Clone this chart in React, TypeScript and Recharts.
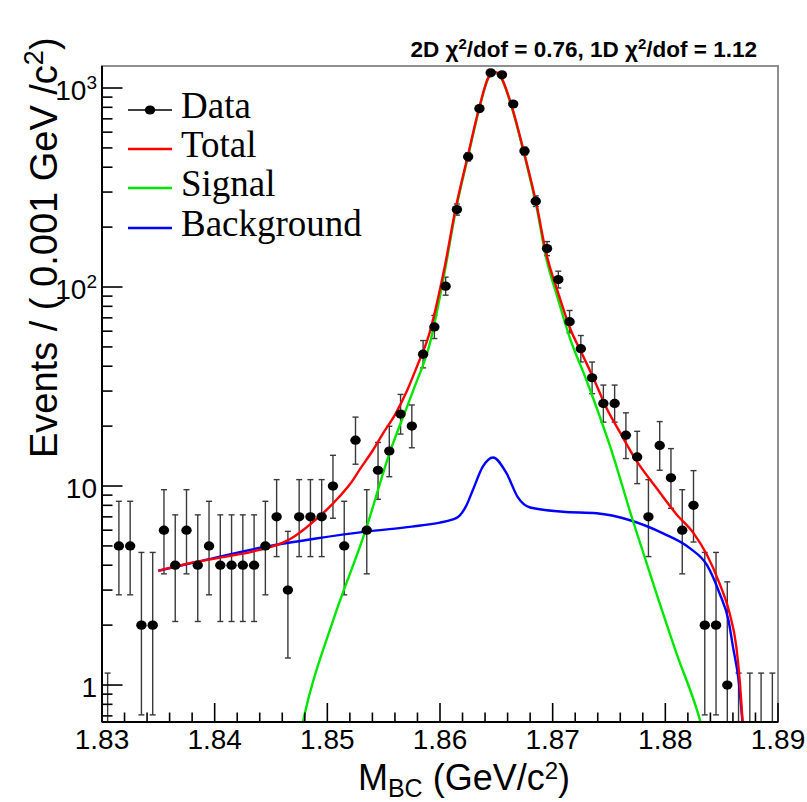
import React from 'react';
import {
  ComposedChart,
  XAxis,
  YAxis,
  Scatter,
  Line,
  ErrorBar,
  ReferenceArea,
  Legend,
  Customized,
} from 'recharts';

// ---------------- data ----------------
const binCenters = [
  1.8305, 1.8315, 1.8325, 1.8335, 1.8345, 1.8355, 1.8365, 1.8375, 1.8385, 1.8395,
  1.8405, 1.8415, 1.8425, 1.8435, 1.8445, 1.8455, 1.8465, 1.8475, 1.8485, 1.8495,
  1.8505, 1.8515, 1.8525, 1.8535, 1.8545, 1.8555, 1.8565, 1.8575, 1.8585, 1.8595,
  1.8605, 1.8615, 1.8625, 1.8635, 1.8645, 1.8655, 1.8665, 1.8675, 1.8685, 1.8695,
  1.8705, 1.8715, 1.8725, 1.8735, 1.8745, 1.8755, 1.8765, 1.8775, 1.8785, 1.8795,
  1.8805, 1.8815, 1.8825, 1.8835, 1.8845, 1.8855, 1.8865, 1.8875, 1.8885, 1.8895,
];

const counts = [
  0, 5, 5, 2, 2, 6, 4, 6, 4, 5,
  4, 4, 4, 4, 5, 7, 3, 7, 7, 7,
  10, 5, 17, 6, 12, 15, 23, 20, 46, 63,
  101, 245, 451, 788, 1192, 1165, 831, 482, 270, 156,
  109, 67, 49, 35, 26, 26, 18, 14, 7, 16,
  11, 6, 8, 2, 2, 1, 0, 0, 0, 0,
];

// lower / upper ends of the (Poisson) error bars
const errLow = [
  0, 2.84, 2.84, 0.708, 0.708, 3.62, 2.086, 3.62, 2.086, 2.84,
  2.086, 2.086, 2.086, 2.086, 2.84, 4.419, 1.367, 4.419, 4.419, 4.419,
  6.887, 2.84, 12.87, 3.62, 8.57, 11.14, 18.24, 15.57, 39.24, 55.09,
  90.97, 229.7, 430.1, 760.2, 1157.8, 1131.2, 802.2, 460.4, 253.9, 143.8,
  98.9, 58.84, 42.03, 29.12, 20.94, 20.94, 13.74, 10.28, 4.419, 12.0,
  7.726, 3.62, 5.232, 0.708, 0.708, 0.173, 0, 0, 0, 0,
];
const errHigh = [
  1.148, 8.382, 8.382, 4.638, 4.638, 9.584, 7.163, 9.584, 7.163, 8.382,
  7.163, 7.163, 7.163, 7.163, 8.382, 10.77, 5.918, 10.77, 10.77, 10.77,
  14.27, 8.382, 22.2, 9.584, 16.56, 19.96, 28.86, 25.54, 53.83, 71.98,
  112.08, 261.4, 472.9, 816.8, 1227.2, 1199.8, 860.5, 504.6, 287.1, 169.2,
  120.1, 76.22, 57.05, 41.97, 32.16, 32.16, 23.32, 18.83, 10.77, 21.08,
  15.42, 9.584, 11.95, 4.638, 4.638, 3.3, 1.148, 1.148, 1.148, 1.148,
];

// fitted curves
const totalX = [
  1.835, 1.836, 1.837, 1.838, 1.839, 1.84, 1.841, 1.842, 1.843, 1.844,
  1.845, 1.846, 1.847, 1.848, 1.849, 1.85, 1.851, 1.852, 1.853, 1.854,
  1.855, 1.856, 1.857, 1.858, 1.859, 1.8604, 1.8614, 1.8625, 1.8635, 1.8643,
  1.8648, 1.8654, 1.8662, 1.8675, 1.8686, 1.8694, 1.8705, 1.8715, 1.8727, 1.8737,
  1.8748, 1.876, 1.8774, 1.8792, 1.881, 1.8825, 1.8837, 1.8848, 1.8857, 1.8863,
  1.8866, 1.8869,
];
const totalY = [
  3.75, 3.88, 4.0, 4.12, 4.22, 4.32, 4.42, 4.52, 4.63, 4.78,
  4.95, 5.18, 5.55, 6.1, 6.8, 7.65, 8.75, 10.2, 12.4, 15.0,
  18.6, 22.8, 29.5, 40.5, 57, 125, 250, 465, 805, 1135,
  1205, 1140, 870, 465, 255, 150, 93, 63, 45, 34,
  24.5, 18.5, 13.5, 9.8, 7.2, 5.8, 4.5, 3.25, 2.3, 1.56,
  1.06, 0.6,
];

const signalX = [
  1.8477, 1.848, 1.8505, 1.8534, 1.8555, 1.8576, 1.8591, 1.8604, 1.8614, 1.8625,
  1.8635, 1.8643, 1.8648, 1.8654, 1.8662, 1.8675, 1.8686, 1.8694, 1.8705, 1.8715,
  1.873, 1.8751, 1.8771, 1.8792, 1.881, 1.8829, 1.8833,
];
const signalY = [
  0.6, 0.72, 2.1, 6.0, 14.5, 30, 52, 118, 243, 455,
  795, 1125, 1193, 1128, 860, 457, 247, 142, 86, 56,
  34, 15.8, 6.75, 2.9, 1.44, 0.72, 0.6,
];

const backgroundX = [
  1.835, 1.8386, 1.8445, 1.849, 1.8534, 1.8575, 1.86, 1.861, 1.8617, 1.8623,
  1.8629, 1.8638, 1.8647, 1.8659, 1.8669, 1.868, 1.8709, 1.8739, 1.8768, 1.8798,
  1.8822, 1.8837, 1.8848, 1.8856, 1.886, 1.8865, 1.8869,
];
const backgroundY = [
  3.75, 4.18, 4.95, 5.45, 5.9, 6.25, 6.55, 6.75, 7.05, 7.9,
  9.5, 12.5, 13.9, 11.6, 8.8, 7.8, 7.43, 7.3, 6.75, 5.78,
  4.86, 4.0, 2.9, 2.12, 1.56, 1.06, 0.6,
];

const xTickValues = [
  1.83, 1.832, 1.834, 1.836, 1.838, 1.84, 1.842, 1.844, 1.846, 1.848,
  1.85, 1.852, 1.854, 1.856, 1.858, 1.86, 1.862, 1.864, 1.866, 1.868,
  1.87, 1.872, 1.874, 1.876, 1.878, 1.88, 1.882, 1.884, 1.886, 1.888, 1.89,
];
const xTickLabels = [
  '1.83', '', '', '', '', '1.84', '', '', '', '',
  '1.85', '', '', '', '', '1.86', '', '', '', '',
  '1.87', '', '', '', '', '1.88', '', '', '', '', '1.89',
];
const yTickValues = [
  0.7, 0.8, 0.9, 1, 2, 3, 4, 5, 6, 7, 8, 9, 10, 20, 30, 40, 50, 60, 70, 80, 90,
  100, 200, 300, 400, 500, 600, 700, 800, 900, 1000,
];
const yTickLabels = [
  '', '', '', '1', '', '', '', '', '', '', '', '', '10', '', '', '', '', '', '', '', '',
  '10^2', '', '', '', '', '', '', '', '', '10^3',
];

const legendLabels = ['Data', 'Total', 'Signal', 'Background'];
const legendColors = ['#000000', '#ff0000', '#00e600', '#0000ff'];

const titleText = ['2D ', 'χ', '2', '/dof = 0.76, 1D ', 'χ', '2', '/dof = 1.12'];
const xTitle = ['M', 'BC', ' (GeV/c', '2', ')'];
const yTitle = ['Events / ( 0.001 GeV /c', '2', ')'];

// ---------------- derived tables ----------------
const Y_MIN = 0.652;
const Y_MAX = 1290;

const pointData = binCenters.map((x, i) => {
  const n = counts[i];
  if (n > 0) {
    const lo = Math.max(errLow[i], Y_MIN); // bar is cut at the frame
    return { x, y: n, n, err: [n - lo, errHigh[i] - n] };
  }
  return { x, y: Y_MIN, n, err: [0, errHigh[i] - Y_MIN] };
});
const totalData = totalX.map((x, i) => ({ x, y: totalY[i] }));
const signalData = signalX.map((x, i) => ({ x, y: signalY[i] }));
const backgroundData = backgroundX.map((x, i) => ({ x, y: backgroundY[i] }));

const SANS = "'Liberation Sans', Arial, Helvetica, sans-serif";
const SERIF = "'Liberation Serif', 'Times New Roman', Times, serif";

// ---------------- renderers ----------------
const XTick = (props: any) => {
  const { x, y, index } = props;
  const label = xTickLabels[index];
  const major = label !== '';
  return (
    <g>
      <line x1={x} x2={x} y1={y} y2={y - (major ? 19 : 9.5)} stroke="#000" strokeWidth={1.6} />
      {major && (
        <text x={x} y={y + 27} textAnchor="middle" fontFamily={SANS} fontSize={28} fill="#000">
          {label}
        </text>
      )}
    </g>
  );
};

const YTick = (props: any) => {
  const { x, y, index } = props;
  const label = yTickLabels[index];
  const major = label !== '';
  const parts = label.split('^');
  return (
    <g>
      <line x1={x} x2={x + (major ? 20.5 : 10.5)} y1={y} y2={y} stroke="#000" strokeWidth={1.6} />
      {major && (
        <text x={x - 5} y={y + 12} textAnchor="end" fontFamily={SANS} fontSize={28} fill="#000">
          {parts[0]}
          {parts.length > 1 && (
            <tspan dy={-11} fontSize={19}>
              {parts[1]}
            </tspan>
          )}
        </text>
      )}
    </g>
  );
};

const DataDot = (props: any) => {
  const { cx, cy, payload } = props;
  if (!payload || payload.n <= 0) return <g />;
  return <ellipse cx={cx} cy={cy} rx={5.2} ry={4.6} fill="#000" />;
};

const renderLegend = () => {
  const rows = [22, 61, 100, 140];
  return (
    <svg width={260} height={160} style={{ display: 'block', overflow: 'visible' }}>
      {legendLabels.map((lab, i) => (
        <g key={lab}>
          <line
            x1={8}
            x2={52}
            y1={rows[i]}
            y2={rows[i]}
            stroke={legendColors[i]}
            strokeWidth={i === 0 ? 1.4 : 2.4}
          />
          {i === 0 && <ellipse cx={30} cy={rows[i]} rx={5.2} ry={4.6} fill="#000" />}
          <text x={61} y={rows[i] + 8} fontFamily={SERIF} fontSize={37} fill="#000">
            {lab}
          </text>
        </g>
      ))}
    </svg>
  );
};

const Texts = () => (
  <g>
    <text x={757} y={57} textAnchor="end" fontFamily={SANS} fontWeight="bold" fontSize={22.5} fill="#000">
      {titleText[0]}
      <tspan>{titleText[1]}</tspan>
      <tspan dy={-8.5} fontSize={15}>{titleText[2]}</tspan>
      <tspan dy={8.5}>{titleText[3]}</tspan>
      <tspan>{titleText[4]}</tspan>
      <tspan dy={-8.5} fontSize={15}>{titleText[5]}</tspan>
      <tspan dy={8.5}>{titleText[6]}</tspan>
    </text>
    <text x={464} y={790} textAnchor="middle" fontFamily={SANS} fontSize={36} fill="#000">
      {xTitle[0]}
      <tspan dy={7} fontSize={25}>{xTitle[1]}</tspan>
      <tspan dy={-7}>{xTitle[2]}</tspan>
      <tspan dy={-11} fontSize={24}>{xTitle[3]}</tspan>
      <tspan dy={11}>{xTitle[4]}</tspan>
    </text>
    <text transform="rotate(-90)" x={-458} y={57} fontFamily={SANS} fontSize={38} fill="#000">
      {yTitle[0]}
      <tspan dy={-14} fontSize={27}>{yTitle[1]}</tspan>
      <tspan dy={14}>{yTitle[2]}</tspan>
    </text>
  </g>
);

export default function App() {
  return (
    <div style={{ position: 'absolute', left: 0, top: 0, width: 807, height: 802, background: '#fff' }}>
      <ComposedChart
        width={807}
        height={802}
        margin={{ top: 66, right: 29, left: 42, bottom: 30 }}
      >
        <XAxis
          dataKey="x"
          type="number"
          domain={[1.83, 1.89]}
          allowDataOverflow
          ticks={xTickValues}
          interval={0}
          tickSize={0}
          tickMargin={0}
          tickLine={false}
          tick={<XTick />}
          axisLine={{ stroke: '#000', strokeWidth: 2 }}
          height={50}
        />
        <YAxis
          dataKey="y"
          type="number"
          scale="log"
          domain={[Y_MIN, Y_MAX]}
          allowDataOverflow
          ticks={yTickValues}
          interval={0}
          tickSize={0}
          tickMargin={0}
          tickLine={false}
          tick={<YTick />}
          axisLine={{ stroke: '#000', strokeWidth: 2 }}
          width={60}
        />
        <ReferenceArea
          x1={1.83}
          x2={1.89}
          y1={Y_MIN}
          y2={Y_MAX}
          fill="none"
          fillOpacity={0}
          stroke="#8f8f8f"
          strokeWidth={2}
          ifOverflow="visible"
        />
        <Scatter
          name="Data"
          data={pointData}
          dataKey="y"
          shape={DataDot}
          isAnimationActive={false}
        >
          <ErrorBar dataKey="err" direction="y" width={3} stroke="#3a3a3a" strokeWidth={1.4} />
        </Scatter>
        <Line
          name="Background"
          data={backgroundData}
          dataKey="y"
          type="monotone"
          stroke="#0000ff"
          strokeWidth={2.4}
          dot={false}
          activeDot={false}
          isAnimationActive={false}
        />
        <Line
          name="Signal"
          data={signalData}
          dataKey="y"
          type="monotone"
          stroke="#00e600"
          strokeWidth={2.4}
          dot={false}
          activeDot={false}
          isAnimationActive={false}
        />
        <Line
          name="Total"
          data={totalData}
          dataKey="y"
          type="monotone"
          stroke="#ff0000"
          strokeWidth={2.4}
          dot={false}
          activeDot={false}
          isAnimationActive={false}
        />
        <Legend
          layout="vertical"
          align="center"
          verticalAlign="middle"
          content={renderLegend}
          wrapperStyle={{ left: 120, top: 88, width: 260, height: 160 }}
        />
        <Customized component={<Texts />} />
      </ComposedChart>
    </div>
  );
}
